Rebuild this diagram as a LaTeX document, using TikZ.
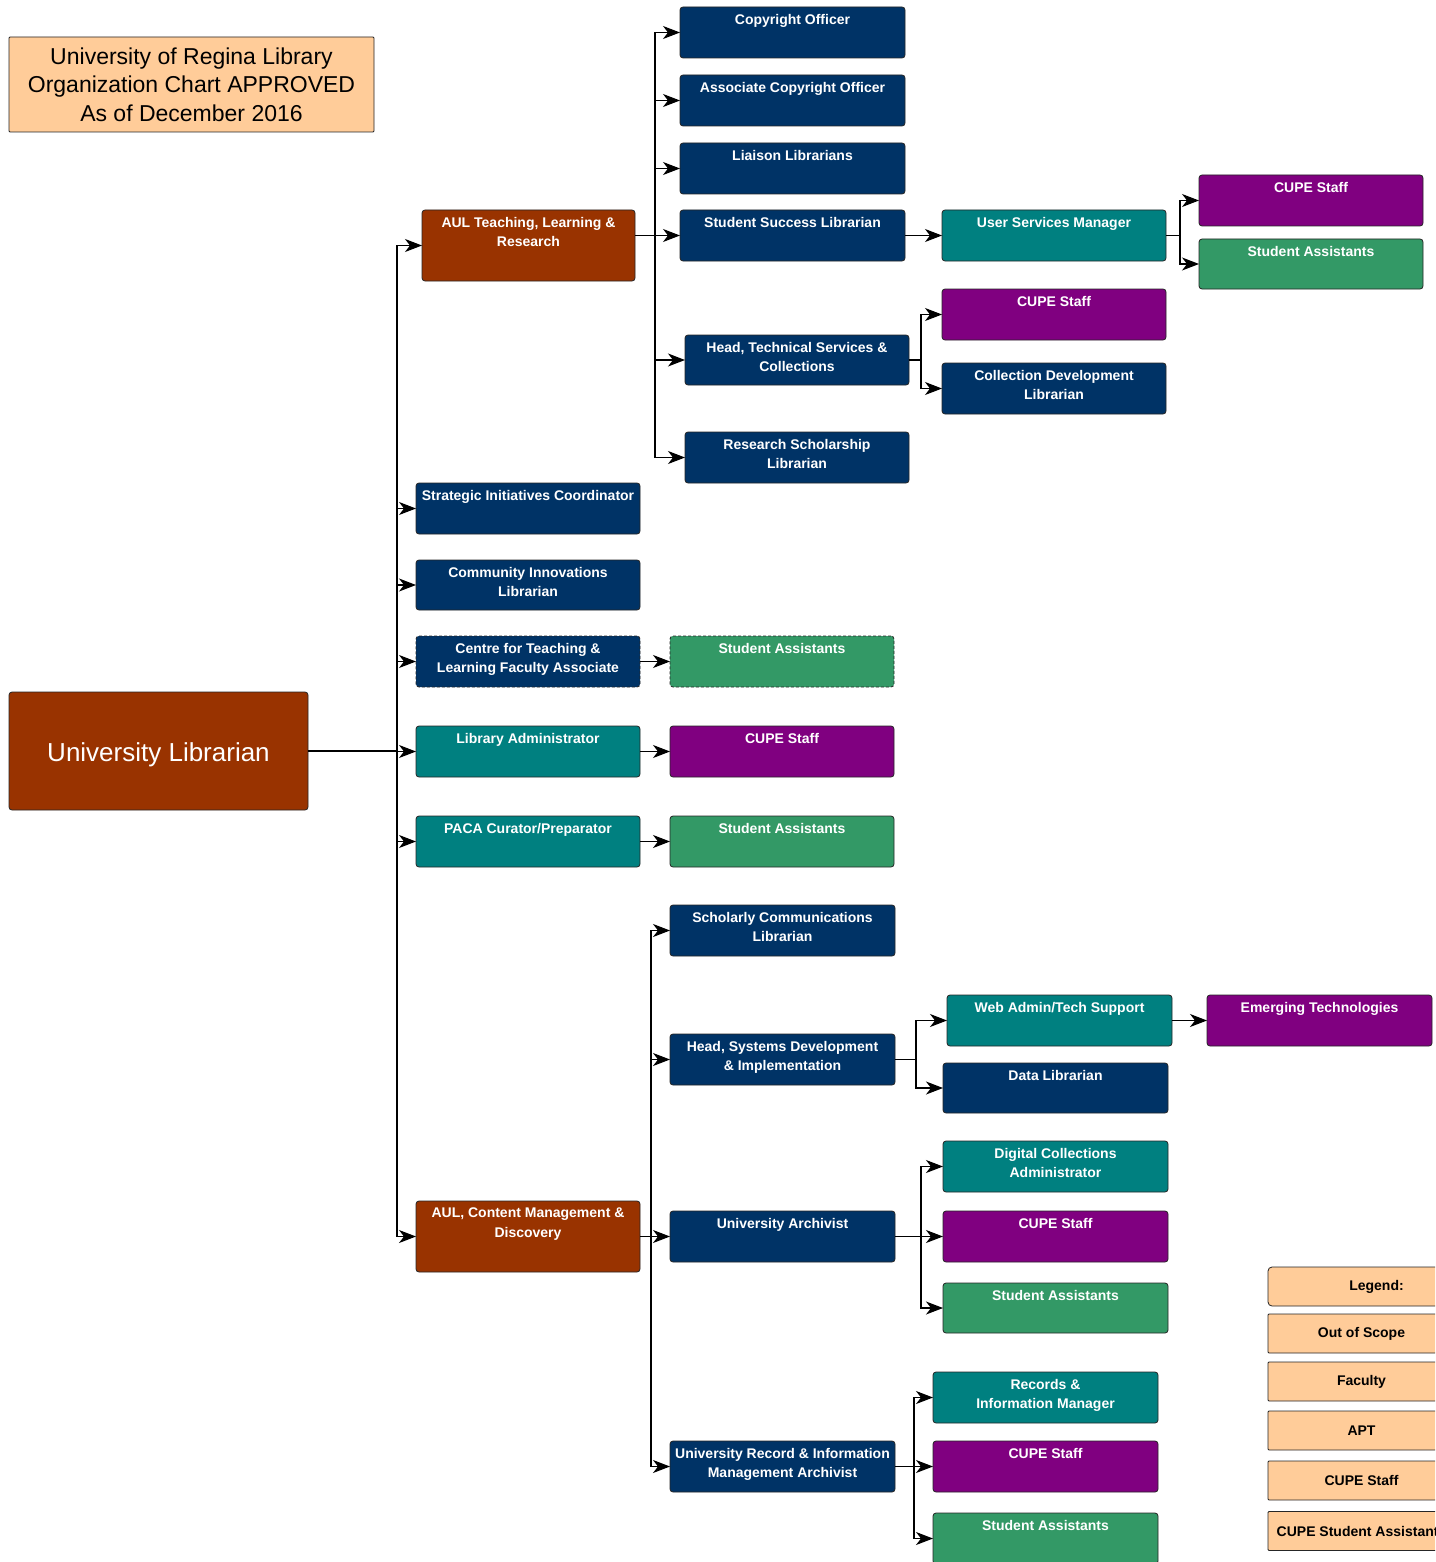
\documentclass[tikz,border=0pt]{standalone}
\usepackage{fontspec}
\setmainfont{Liberation Sans}
\usetikzlibrary{arrows.meta}
\definecolor{cNavy}{HTML}{003366}
\definecolor{cBrown}{HTML}{993300}
\definecolor{cTeal}{HTML}{008080}
\definecolor{cPurple}{HTML}{800080}
\definecolor{cGreen}{HTML}{339966}
\definecolor{cPeach}{HTML}{FFCC99}
\tikzset{
  box/.style={draw=black!85, line width=0.8pt, rounded corners=3pt, inner sep=0pt, outer sep=0pt},
  navy/.style={box, fill=cNavy},
  brown/.style={box, fill=cBrown},
  teal/.style={box, fill=cTeal},
  purple/.style={box, fill=cPurple},
  green/.style={box, fill=cGreen},
  dashbox/.style={dash pattern=on 3pt off 2pt},
  lbl/.style={text=white, font=\fontsize{14}{19.5}\selectfont\bfseries, align=center, inner sep=0pt},
  legbox/.style={draw=black!85, line width=0.8pt, rounded corners=1pt, fill=cPeach, inner sep=0pt, outer sep=0pt, font=\fontsize{14}{17}\selectfont\bfseries, text=black, minimum height=39},
  arr/.style={line width=1.1pt, -{Stealth[length=17pt,width=13pt,inset=5pt]}},
}
% name, x1, y1, x2, y2, style, text
\newcommand{\obox}[7]{%
  \node[#6, minimum width={#4-#2}, minimum height={#5-#3}] (#1) at ({(#2+#4)/2},{(#3+#5)/2}) {};
  \node[lbl, anchor=north] (#1-t) at ([yshift=-7pt]#1.north) {#7};
}
\begin{document}
\begin{tikzpicture}[x=1pt,y=-1pt]
\useasboundingbox (0,0) rectangle (1435,1562);
\clip (0,0) rectangle (1435,1562);
\fill[white] (0,0) rectangle (1435,1562);

% title
\node[box, rounded corners=1pt, fill=cPeach, minimum width=365, minimum height=95, align=center,
  font=\fontsize{23}{28.5}\selectfont, text=black] (title) at (191.5,84.5)
  {University of Regina Library\\Organization Chart APPROVED\\As of December 2016};

% root
\node[brown, minimum width=299, minimum height=118, font=\fontsize{26}{30}\selectfont, text=white, text height=26pt, text depth=5.5pt] (UL) at (158.5,751) {University Librarian};

% level 1
\obox{AULT}{422}{210}{635}{281}{brown}{AUL Teaching, Learning \&\\Research}
\obox{SIC}{416}{483}{640}{534}{navy}{Strategic Initiatives Coordinator}
\obox{CIL}{416}{560}{640}{610}{navy}{Community Innovations\\Librarian}
\obox{CTL}{416}{636}{640}{687}{navy,dashbox}{Centre for Teaching \&\\Learning Faculty Associate}
\obox{LA}{416}{726}{640}{777}{teal}{Library Administrator}
\obox{PACA}{416}{816}{640}{867}{teal}{PACA Curator/Preparator}
\obox{AULC}{416}{1201}{640}{1272}{brown}{AUL, Content Management \&\\Discovery}

% top column
\obox{CO}{680}{7}{905}{58}{navy}{Copyright Officer}
\obox{ACO}{680}{75}{905}{126}{navy}{Associate Copyright Officer}
\obox{LL}{680}{143}{905}{194}{navy}{Liaison Librarians}
\obox{SSL}{680}{210}{905}{261}{navy}{Student Success Librarian}
\obox{HTS}{685}{335}{909}{385}{navy}{Head, Technical Services \&\\Collections}
\obox{RSL}{685}{432}{909}{483}{navy}{Research Scholarship\\Librarian}

\obox{USM}{942}{210}{1166}{261}{teal}{User Services Manager}
\obox{CUPEa}{1199}{175}{1423}{226}{purple}{CUPE Staff}
\obox{SAa}{1199}{239}{1423}{289}{green}{Student Assistants}
\obox{CUPEb}{942}{289}{1166}{340}{purple}{CUPE Staff}
\obox{CDL}{942}{363}{1166}{414}{navy}{Collection Development\\Librarian}

% middle
\obox{SAdash}{670}{636}{894}{687}{green,dashbox}{Student Assistants}
\obox{CUPEm}{670}{726}{894}{777}{purple}{CUPE Staff}
\obox{SAm}{670}{816}{894}{867}{green}{Student Assistants}

% bottom
\obox{SCL}{670}{905}{895}{956}{navy}{Scholarly Communications\\Librarian}
\obox{HSD}{670}{1034}{895}{1085}{navy}{Head, Systems Development\\\& Implementation}
\obox{UA}{670}{1211}{895}{1262}{navy}{University Archivist}
\obox{URIM}{670}{1441}{895}{1492}{navy}{University Record \& Information\\Management Archivist}

\obox{WAT}{947}{995}{1172}{1046}{teal}{Web Admin/Tech Support}
\obox{ET}{1207}{995}{1432}{1046}{purple}{Emerging Technologies}
\obox{DL}{943}{1063}{1168}{1113}{navy}{Data Librarian}
\obox{DCA}{943}{1141}{1168}{1192}{teal}{Digital Collections\\Administrator}
\obox{CUPEc}{943}{1211}{1168}{1262}{purple}{CUPE Staff}
\obox{SAc}{943}{1283}{1168}{1333}{green}{Student Assistants}
\obox{RIM}{933}{1372}{1158}{1423}{teal}{Records \&\\Information Manager}
\obox{CUPEd}{933}{1441}{1158}{1492}{purple}{CUPE Staff}
\obox{SAd}{933}{1513}{1158}{1564}{green}{Student Assistants}

% legend
\node[legbox, rounded corners=4pt, minimum width=217] (lg0) at (1376.5,1286.5) {Legend:};
\node[legbox, minimum width=187] (lg1) at (1361.5,1333.5) {Out of Scope};
\node[legbox, minimum width=187] (lg2) at (1361.5,1381.5) {Faculty};
\node[legbox, minimum width=187] (lg3) at (1361.5,1430.5) {APT};
\node[legbox, minimum width=187] (lg4) at (1361.5,1480.5) {CUPE Staff};
\node[legbox, minimum width=187] (lg5) at (1361.5,1531) {CUPE Student Assistants};

% junction x positions
\coordinate (j0) at (397,0);
\coordinate (j1) at (655,0);
\coordinate (j2) at (1180,0);
\coordinate (j3) at (651,0);
\coordinate (j4) at (916,0);
\coordinate (j5) at (921,0);
\coordinate (j6) at (914,0);
\coordinate (j7) at (921,0);

% connectors
\foreach \t in {AULT,SIC,CIL,CTL,LA,PACA,AULC}
  \draw[arr] (UL.east) -- (UL.east -| j0) |- (\t.west);

\draw[arr] (AULT.east |- SSL.west) -- (SSL.west);
\foreach \t in {CO,ACO,LL,HTS,RSL}
  \draw[arr] (AULT.east |- SSL.west) -- (j1 |- SSL.west) |- (\t.west);

\draw[arr] (SSL.east) -- (USM.west);
\foreach \t in {CUPEa,SAa}
  \draw[arr] (USM.east) -- (USM.east -| j2) |- (\t.west);
\foreach \t in {CUPEb,CDL}
  \draw[arr] (HTS.east) -- (HTS.east -| j7) |- (\t.west);

\draw[arr] (CTL.east) -- (SAdash.west);
\draw[arr] (LA.east) -- (CUPEm.west);
\draw[arr] (PACA.east) -- (SAm.west);

\foreach \t in {SCL,HSD,UA,URIM}
  \draw[arr] (AULC.east) -- (AULC.east -| j3) |- (\t.west);
\foreach \t in {WAT,DL}
  \draw[arr] (HSD.east) -- (HSD.east -| j4) |- (\t.west);
\draw[arr] (WAT.east) -- (ET.west);
\foreach \t in {DCA,CUPEc,SAc}
  \draw[arr] (UA.east) -- (UA.east -| j5) |- (\t.west);
\foreach \t in {RIM,CUPEd,SAd}
  \draw[arr] (URIM.east) -- (URIM.east -| j6) |- (\t.west);
\end{tikzpicture}
\end{document}
